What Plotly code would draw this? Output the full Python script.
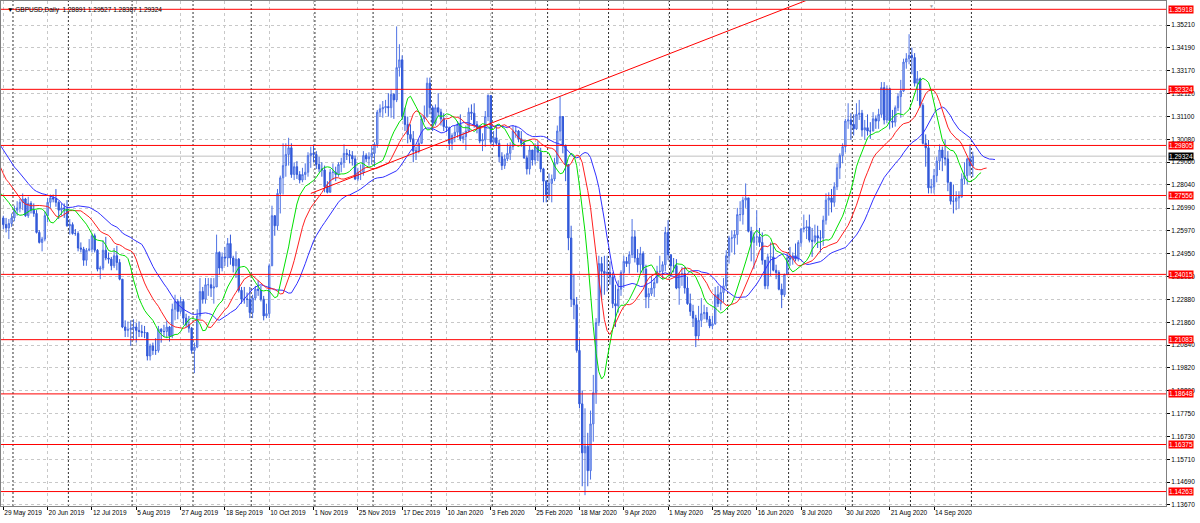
import plotly.graph_objects as go
import pandas as pd

# ---------------- data ----------------
symbol_header = "\u25BC GBPUSD,Daily  1.28891 1.29527 1.28387 1.29324"

# closes of the bars before the visible window (15 Apr 2019 - 28 May 2019), only used to seed the Alligator
pre_closes = [1.3090, 1.3045, 1.3045, 1.2995, 1.2995, 1.3005, 1.2975, 1.2915, 1.2895, 1.2920,
              1.2935, 1.3035, 1.3040, 1.3025, 1.3180, 1.3110, 1.3080, 1.3010, 1.3005, 1.3005,
              1.2960, 1.2915, 1.2870, 1.2795, 1.2725, 1.2720, 1.2705, 1.2655, 1.2650, 1.2710,
              1.2690, 1.2655]

closes = [
    1.2625, 1.2610, 1.2630,
    1.2655, 1.2690, 1.2700, 1.2725, 1.2740, 1.2665, 1.2720, 1.2690, 1.2675, 1.2590, 1.2545, 1.2560, 1.2665, 1.2725, 1.2745, 1.2740, 1.2725, 1.2690, 1.2700, 1.2695,
    1.2620, 1.2625, 1.2585, 1.2585, 1.2520, 1.2515, 1.2465, 1.2510, 1.2515, 1.2575, 1.2510, 1.2425, 1.2430, 1.2510, 1.2475, 1.2470, 1.2440, 1.2485, 1.2455, 1.2380, 1.2165, 1.2150, 1.2155,
    1.2160, 1.2165, 1.2150, 1.2145, 1.2140, 1.2140, 1.2035, 1.2080, 1.2060, 1.2060, 1.2155, 1.2145, 1.2145, 1.2165, 1.2125, 1.2245, 1.2280, 1.2235, 1.2280, 1.2205, 1.2175, 1.2160,
    1.2060, 1.2075, 1.2215, 1.2325, 1.2290, 1.2355, 1.2355, 1.2340, 1.2345, 1.2500, 1.2430, 1.2480, 1.2475, 1.2540, 1.2475, 1.2440, 1.2470, 1.2330, 1.2290, 1.2290, 1.2290,
    1.2230, 1.2295, 1.2335, 1.2330, 1.2290, 1.2215, 1.2225, 1.2440, 1.2665, 1.2620, 1.2765, 1.2835, 1.2890, 1.2940, 1.2970, 1.2850, 1.2885, 1.2850, 1.2825, 1.2850, 1.2860, 1.2935, 1.2945,
    1.2940, 1.2895, 1.2875, 1.2870, 1.2795, 1.2770, 1.2860, 1.2860, 1.2850, 1.2895, 1.2905, 1.2945, 1.2940, 1.2935, 1.2920, 1.2830, 1.2860, 1.2860, 1.2935, 1.2920, 1.2930,
    1.2945, 1.2985, 1.3130, 1.3145, 1.3150, 1.3155, 1.3150, 1.3210, 1.3185, 1.3330, 1.3365, 1.3110, 1.3075, 1.3030, 1.3010, 1.2955, 1.2955, 1.2990, 1.3100, 1.3110, 1.3260,
    1.3150, 1.3080, 1.3150, 1.3130, 1.3100, 1.3065, 1.3060, 1.2990, 1.3025, 1.3040, 1.3075, 1.3010, 1.3020, 1.3045, 1.3130, 1.3125, 1.3075, 1.3060, 1.3000, 1.3005, 1.3110, 1.3205,
    1.2995, 1.3015, 1.2990, 1.2930, 1.2890, 1.2920, 1.2945, 1.2975, 1.3045, 1.3045, 1.3010, 1.2990, 1.2925, 1.2875, 1.2960, 1.2915, 1.2975, 1.2950, 1.2875, 1.2820,
    1.2760, 1.2810, 1.2830, 1.2900, 1.3045, 1.3110, 1.2980, 1.2895, 1.2565, 1.2290, 1.2265, 1.2060, 1.1820, 1.1600, 1.1630, 1.1520, 1.1730, 1.1870, 1.2185, 1.2450, 1.2415, 1.2405,
    1.2410, 1.2390, 1.2270, 1.2260, 1.2335, 1.2410, 1.2460, 1.2450, 1.2490, 1.2570, 1.2475, 1.2445, 1.2495, 1.2425, 1.2300, 1.2315, 1.2340, 1.2365, 1.2415, 1.2415, 1.2445, 1.2590,
    1.2490, 1.2440, 1.2440, 1.2340, 1.2400, 1.2405, 1.2340, 1.2270, 1.2235, 1.2205, 1.2125, 1.2195, 1.2225, 1.2230, 1.2200, 1.2170, 1.2180, 1.2310, 1.2270, 1.2320, 1.2350,
    1.2485, 1.2565, 1.2565, 1.2580, 1.2670, 1.2670, 1.2735, 1.2745, 1.2595, 1.2545, 1.2570, 1.2570, 1.2545, 1.2465, 1.2350, 1.2480, 1.2480, 1.2420, 1.2410, 1.2335, 1.2310, 1.2400,
    1.2475, 1.2470, 1.2485, 1.2470, 1.2545, 1.2605, 1.2610, 1.2615, 1.2555, 1.2550, 1.2575, 1.2565, 1.2565, 1.2645, 1.2735, 1.2745, 1.2725, 1.2795, 1.2880, 1.2935, 1.2975, 1.3090, 1.3095,
    1.3075, 1.3055, 1.3120, 1.3125, 1.3050, 1.3060, 1.3045, 1.3045, 1.3100, 1.3090, 1.3120, 1.3240, 1.3095, 1.3235, 1.3090, 1.3085, 1.3150, 1.3200, 1.3225, 1.3355, 1.3370,
    1.3385, 1.3375, 1.3260, 1.3280, 1.3160, 1.2990, 1.2970, 1.2790, 1.2795, 1.2845, 1.2910, 1.2960, 1.2925, 1.2920, 1.2815, 1.2730, 1.2730, 1.2745, 1.2750, 1.2830, 1.2845, 1.2920,
    1.28891, 1.29324,
]

highs = [
    1.2665, 1.2655, 1.2650,
    1.2675, 1.2710, 1.2730, 1.2740, 1.2765, 1.2745, 1.2750, 1.2730, 1.2720, 1.2690, 1.2600, 1.2570, 1.2685, 1.2745, 1.2760, 1.2760, 1.2785, 1.2730, 1.2720, 1.2720,
    1.2735, 1.2650, 1.2635, 1.2605, 1.2595, 1.2545, 1.2525, 1.2520, 1.2560, 1.2585, 1.2585, 1.2515, 1.2440, 1.2555, 1.2570, 1.2500, 1.2480, 1.2520, 1.2530, 1.2470, 1.2380, 1.2195, 1.2190,
    1.2195, 1.2200, 1.2185, 1.2190, 1.2175, 1.2170, 1.2140, 1.2090, 1.2095, 1.2115, 1.2170, 1.2160, 1.2175, 1.2195, 1.2170, 1.2270, 1.2310, 1.2290, 1.2300, 1.2290, 1.2225, 1.2215,
    1.2165, 1.2095, 1.2245, 1.2385, 1.2345, 1.2385, 1.2385, 1.2385, 1.2385, 1.2580, 1.2505, 1.2500, 1.2525, 1.2565, 1.2580, 1.2485, 1.2505, 1.2475, 1.2345, 1.2345, 1.2320,
    1.2345, 1.2310, 1.2350, 1.2375, 1.2350, 1.2305, 1.2270, 1.2450, 1.2710, 1.2660, 1.2785, 1.2845, 1.2990, 1.2990, 1.3015, 1.2990, 1.2905, 1.2910, 1.2865, 1.2880, 1.2900, 1.2950, 1.2975,
    1.2985, 1.2955, 1.2930, 1.2905, 1.2890, 1.2820, 1.2875, 1.2900, 1.2885, 1.2905, 1.2925, 1.2985, 1.2965, 1.2960, 1.2955, 1.2935, 1.2880, 1.2895, 1.2955, 1.2945, 1.2950,
    1.2980, 1.2995, 1.3140, 1.3165, 1.3180, 1.3185, 1.3215, 1.3230, 1.3215, 1.3515, 1.3435, 1.3385, 1.3150, 1.3110, 1.3075, 1.3045, 1.2975, 1.3010, 1.3115, 1.3160, 1.3285,
    1.3285, 1.3160, 1.3165, 1.3215, 1.3145, 1.3125, 1.3095, 1.3065, 1.3035, 1.3070, 1.3090, 1.3120, 1.3040, 1.3070, 1.3150, 1.3165, 1.3170, 1.3090, 1.3070, 1.3035, 1.3135, 1.3210,
    1.3205, 1.3045, 1.3070, 1.3005, 1.2950, 1.2940, 1.2990, 1.2995, 1.3070, 1.3070, 1.3050, 1.3045, 1.3005, 1.2935, 1.2980, 1.2960, 1.2990, 1.3000, 1.2970, 1.2880,
    1.2825, 1.2855, 1.2850, 1.2925, 1.3070, 1.3200, 1.3105, 1.2985, 1.2890, 1.2620, 1.2400, 1.2300, 1.2110, 1.1880, 1.1800, 1.1690, 1.1790, 1.1950, 1.2205, 1.2485, 1.2480, 1.2485,
    1.2485, 1.2460, 1.2410, 1.2355, 1.2375, 1.2420, 1.2485, 1.2480, 1.2505, 1.2650, 1.2600, 1.2515, 1.2525, 1.2505, 1.2445, 1.2340, 1.2395, 1.2385, 1.2440, 1.2485, 1.2460, 1.2615,
    1.2645, 1.2490, 1.2475, 1.2470, 1.2410, 1.2435, 1.2435, 1.2390, 1.2315, 1.2265, 1.2220, 1.2260, 1.2295, 1.2265, 1.2255, 1.2215, 1.2215, 1.2345, 1.2350, 1.2350, 1.2385,
    1.2510, 1.2575, 1.2600, 1.2600, 1.2700, 1.2730, 1.2750, 1.2810, 1.2745, 1.2615, 1.2590, 1.2690, 1.2610, 1.2590, 1.2455, 1.2495, 1.2545, 1.2540, 1.2445, 1.2420, 1.2360, 1.2405,
    1.2500, 1.2525, 1.2500, 1.2540, 1.2555, 1.2610, 1.2670, 1.2645, 1.2670, 1.2610, 1.2625, 1.2620, 1.2600, 1.2665, 1.2765, 1.2770, 1.2785, 1.2815, 1.2900, 1.2945, 1.2990, 1.3100, 1.3170,
    1.3125, 1.3120, 1.3170, 1.3185, 1.3140, 1.3095, 1.3120, 1.3085, 1.3130, 1.3115, 1.3145, 1.3265, 1.3265, 1.3250, 1.3240, 1.3140, 1.3160, 1.3215, 1.3275, 1.3370, 1.3395,
    1.3480, 1.3420, 1.3395, 1.3315, 1.3285, 1.3170, 1.3030, 1.3005, 1.2830, 1.2875, 1.2930, 1.2985, 1.2975, 1.3005, 1.2955, 1.2815, 1.2805, 1.2775, 1.2775, 1.2855, 1.2905, 1.2925,
    1.2985, 1.29527,
]

lows = [
    1.2605, 1.2590, 1.2560,
    1.2615, 1.2640, 1.2665, 1.2680, 1.2690, 1.2660, 1.2655, 1.2675, 1.2660, 1.2585, 1.2540, 1.2505, 1.2550, 1.2635, 1.2700, 1.2725, 1.2705, 1.2650, 1.2665, 1.2655,
    1.2615, 1.2580, 1.2580, 1.2575, 1.2505, 1.2500, 1.2440, 1.2440, 1.2505, 1.2500, 1.2500, 1.2415, 1.2380, 1.2420, 1.2465, 1.2450, 1.2420, 1.2430, 1.2420, 1.2375, 1.2160, 1.2120, 1.2120,
    1.2080, 1.2105, 1.2095, 1.2120, 1.2120, 1.2115, 1.2015, 1.2015, 1.2040, 1.2040, 1.2050, 1.2095, 1.2120, 1.2115, 1.2100, 1.2115, 1.2195, 1.2200, 1.2225, 1.2175, 1.2165, 1.2140,
    1.2045, 1.1958, 1.2070, 1.2200, 1.2270, 1.2270, 1.2305, 1.2300, 1.2270, 1.2345, 1.2400, 1.2415, 1.2440, 1.2435, 1.2445, 1.2410, 1.2385, 1.2320, 1.2270, 1.2270, 1.2255,
    1.2205, 1.2205, 1.2285, 1.2305, 1.2280, 1.2195, 1.2205, 1.2205, 1.2440, 1.2575, 1.2600, 1.2675, 1.2760, 1.2840, 1.2890, 1.2835, 1.2825, 1.2830, 1.2810, 1.2815, 1.2825, 1.2840, 1.2880,
    1.2905, 1.2875, 1.2860, 1.2840, 1.2770, 1.2765, 1.2780, 1.2825, 1.2820, 1.2840, 1.2860, 1.2880, 1.2915, 1.2900, 1.2890, 1.2825, 1.2820, 1.2825, 1.2845, 1.2905, 1.2890,
    1.2895, 1.2885, 1.2970, 1.3110, 1.3105, 1.3125, 1.3110, 1.3105, 1.3100, 1.3175, 1.3290, 1.3095, 1.3045, 1.2990, 1.2995, 1.2905, 1.2915, 1.2945, 1.2995, 1.3085, 1.3105,
    1.3120, 1.3045, 1.3070, 1.3110, 1.3070, 1.3045, 1.3040, 1.2960, 1.2960, 1.2995, 1.3015, 1.3000, 1.2990, 1.2960, 1.3040, 1.3095, 1.3060, 1.3035, 1.2990, 1.2955, 1.2975, 1.3090,
    1.2985, 1.2975, 1.2980, 1.2905, 1.2870, 1.2875, 1.2910, 1.2915, 1.2960, 1.3015, 1.2995, 1.2975, 1.2920, 1.2850, 1.2850, 1.2890, 1.2895, 1.2910, 1.2860, 1.2725,
    1.2725, 1.2735, 1.2725, 1.2820, 1.2895, 1.3000, 1.2945, 1.2820, 1.2510, 1.2255, 1.2200, 1.2050, 1.1800, 1.1450, 1.1410, 1.1450, 1.1480, 1.1650, 1.1820, 1.2170, 1.2290, 1.2310,
    1.2325, 1.2355, 1.2250, 1.2165, 1.2230, 1.2305, 1.2340, 1.2435, 1.2405, 1.2475, 1.2455, 1.2410, 1.2405, 1.2405, 1.2250, 1.2250, 1.2305, 1.2300, 1.2360, 1.2395, 1.2380, 1.2415,
    1.2465, 1.2390, 1.2410, 1.2335, 1.2265, 1.2350, 1.2315, 1.2265, 1.2215, 1.2165, 1.2075, 1.2105, 1.2165, 1.2200, 1.2185, 1.2160, 1.2155, 1.2175, 1.2255, 1.2240, 1.2275,
    1.2335, 1.2450, 1.2500, 1.2490, 1.2535, 1.2640, 1.2625, 1.2700, 1.2590, 1.2460, 1.2425, 1.2530, 1.2525, 1.2445, 1.2335, 1.2335, 1.2395, 1.2415, 1.2380, 1.2330, 1.2250, 1.2300,
    1.2400, 1.2440, 1.2445, 1.2460, 1.2460, 1.2525, 1.2590, 1.2560, 1.2545, 1.2480, 1.2540, 1.2520, 1.2500, 1.2530, 1.2625, 1.2665, 1.2680, 1.2705, 1.2780, 1.2830, 1.2900, 1.2950, 1.3055,
    1.3005, 1.3025, 1.3050, 1.3095, 1.3020, 1.3005, 1.3025, 1.3010, 1.3045, 1.3055, 1.3055, 1.3105, 1.3075, 1.3080, 1.3055, 1.3060, 1.3065, 1.3135, 1.3105, 1.3220, 1.3325,
    1.3345, 1.3300, 1.3245, 1.3180, 1.3150, 1.2985, 1.2885, 1.2765, 1.2765, 1.2765, 1.2815, 1.2870, 1.2865, 1.2890, 1.2775, 1.2715, 1.2675, 1.2690, 1.2695, 1.2745, 1.2805, 1.2805,
    1.2845, 1.28387,
]

date_labels = ["29 May 2019", "20 Jun 2019", "12 Jul 2019", "5 Aug 2019", "27 Aug 2019", "18 Sep 2019",
               "10 Oct 2019", "1 Nov 2019", "25 Nov 2019", "17 Dec 2019", "10 Jan 2020", "3 Feb 2020",
               "25 Feb 2020", "18 Mar 2020", "9 Apr 2020", "1 May 2020", "25 May 2020", "16 Jun 2020",
               "8 Jul 2020", "30 Jul 2020", "21 Aug 2020", "14 Sep 2020"]

price_ticks = [1.35210, 1.34190, 1.33170, 1.32120, 1.31100, 1.30080, 1.29060, 1.28040, 1.26990, 1.25970,
               1.24950, 1.23930, 1.22880, 1.21860, 1.20840, 1.19820, 1.18800, 1.17750, 1.16730, 1.15710,
               1.14690, 1.13670]

level_lines = [1.35918, 1.32324, 1.29805, 1.27556, 1.24015, 1.21083, 1.18648, 1.16375, 1.14263]
bid_price = 1.29324

# trend line anchors: (bar index, price)
trend_bars = [111, 298]
trend_prices = [1.2765, 1.3671]

# ---------------- build ----------------
dates = [d for d in pd.bdate_range("2019-05-29", "2020-10-02") if d.strftime("%m-%d") not in ("12-25", "01-01")]
n = len(closes)
assert len(highs) == n and len(lows) == n and len(dates) == n, (len(closes), len(highs), len(lows), len(dates))

bar_idx = list(range(n))
opens = [pre_closes[-1]] + closes[:-1]
opens[-1] = 1.28891

medians = pre_closes + [(h + l) / 2 for h, l in zip(highs, lows)]
all_idx = list(range(-len(pre_closes), n))


def smma(vals, p):
    out = [None] * len(vals)
    s = sum(vals[:p]) / p
    out[p - 1] = s
    for i in range(p, len(vals)):
        s = (s * (p - 1) + vals[i]) / p
        out[i] = s
    return out


def shifted(vals, p, shift):
    sm = smma(vals, p)
    xs, ys = [], []
    for i, v in zip(all_idx, sm):
        if v is not None:
            xs.append(i + shift)
            ys.append(v)
    return xs, ys


jaw_x, jaw_y = shifted(medians, 13, 8)
teeth_x, teeth_y = shifted(medians, 8, 5)
lips_x, lips_y = shifted(medians, 5, 3)

FONT = "Liberation Sans"
FS = 6.5

fig = go.Figure()
fig.add_trace(go.Candlestick(
    x=bar_idx, open=opens, high=highs, low=lows, close=closes,
    increasing=dict(line=dict(color="#4f73e4", width=1), fillcolor="#b3c5f3"),
    decreasing=dict(line=dict(color="#3259d9", width=1), fillcolor="#3259d9"),
    whiskerwidth=0, hoverinfo="skip", showlegend=False,
))
fig.add_trace(go.Scatter(x=jaw_x, y=jaw_y, mode="lines", line=dict(color="#3030ff", width=1), showlegend=False, hoverinfo="skip"))
fig.add_trace(go.Scatter(x=teeth_x, y=teeth_y, mode="lines", line=dict(color="#ff2020", width=1), showlegend=False, hoverinfo="skip"))
fig.add_trace(go.Scatter(x=lips_x, y=lips_y, mode="lines", line=dict(color="#00e000", width=1), showlegend=False, hoverinfo="skip"))
fig.add_trace(go.Scatter(x=trend_bars, y=trend_prices, mode="lines", line=dict(color="#ff0000", width=1), showlegend=False, hoverinfo="skip"))

shapes = []
# month separators
prev_month = None
for i, d in enumerate(dates):
    if prev_month is not None and d.month != prev_month:
        shapes.append(dict(type="line", xref="x", yref="paper", x0=i + 0.5, x1=i + 0.5, y0=0, y1=1,
                           line=dict(color="#303030", width=1, dash="2px,2px"), layer="below"))
    prev_month = d.month
for lv in level_lines:
    shapes.append(dict(type="line", xref="paper", yref="y", x0=0, x1=1, y0=lv, y1=lv,
                       line=dict(color="#ff0000", width=1), layer="above"))
shapes.append(dict(type="line", xref="paper", yref="y", x0=0, x1=1, y0=bid_price, y1=bid_price,
                   line=dict(color="#c0c0c0", width=1), layer="below"))

annotations = []
for lv in level_lines:
    annotations.append(dict(x=1, xref="paper", xanchor="left", xshift=2, y=lv, yref="y", text=f"{lv:.5f}",
                            showarrow=False, bgcolor="#ff0000", borderpad=0,
                            font=dict(color="white", size=FS, family=FONT)))
annotations.append(dict(x=1, xref="paper", xanchor="left", xshift=2, y=bid_price, yref="y", text=f"{bid_price:.5f}",
                        showarrow=False, bgcolor="#000000", borderpad=0,
                        font=dict(color="white", size=FS, family=FONT)))
annotations.append(dict(x=0, xref="paper", xanchor="left", xshift=4, y=1, yref="paper", yanchor="top", yshift=-3,
                        text=symbol_header, showarrow=False, font=dict(color="black", size=FS, family=FONT)))
annotations.append(dict(x=0.7985, xref="paper", xanchor="center", y=1, yref="paper", yanchor="top",
                        text="\u25BC", showarrow=False, font=dict(color="#a0a0a0", size=5, family=FONT)))

fig.update_layout(
    width=1200, height=523,
    margin=dict(l=1, r=34, t=1, b=17),
    paper_bgcolor="white", plot_bgcolor="white",
    showlegend=False,
    shapes=shapes, annotations=annotations,
    font=dict(family=FONT, size=FS, color="black"),
    xaxis=dict(
        range=[-0.83, 419.75], rangeslider=dict(visible=False),
        tickmode="array", tickvals=[16 * k for k in range(len(date_labels))], ticktext=date_labels,
        tickangle=0, ticklabelposition="outside right", ticks="outside", ticklen=3, tickcolor="black",
        tickfont=dict(size=FS, family=FONT, color="black"),
        showgrid=True, gridcolor="#c8c8c8", griddash="3px,3px", gridwidth=1,
        showline=True, linecolor="#808080", linewidth=1, mirror=True, zeroline=False, fixedrange=True,
    ),
    yaxis=dict(
        range=[1.13614, 1.36291], side="right",
        tickmode="array", tickvals=price_ticks, ticktext=[f"{v:.5f}" for v in price_ticks],
        ticks="outside", ticklen=3, tickcolor="black",
        tickfont=dict(size=FS, family=FONT, color="black"),
        showgrid=True, gridcolor="#c8c8c8", griddash="3px,3px", gridwidth=1,
        showline=True, linecolor="#808080", linewidth=1, mirror=True, zeroline=False, fixedrange=True,
    ),
)

fig.write_html("out.html", config={"displayModeBar": False}, post_script="document.body.style.margin='0';")
